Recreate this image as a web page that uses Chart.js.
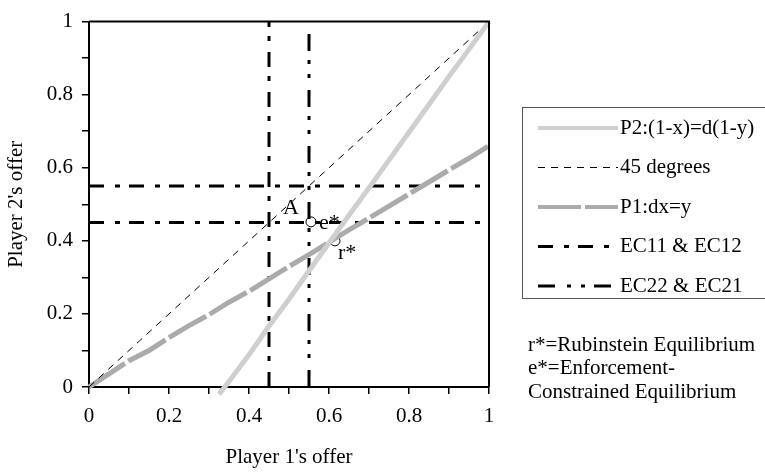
<!DOCTYPE html>
<html>
<head>
<meta charset="utf-8">
<script src="https://cdn.jsdelivr.net/npm/chart.js@4/dist/chart.umd.min.js"></script>
<style>
  body { margin: 0; background: #fff; }
</style>
</head>
<body>
<canvas id="game" width="765" height="473"></canvas>
<script>
Chart.defaults.font.family = '"Liberation Serif", "Times New Roman", serif';
Chart.defaults.font.size = 21;
Chart.defaults.color = '#000';

// data
const p1X = [0, 0.05, 0.1, 0.15, 0.2, 0.25, 0.3, 0.35, 0.4, 0.45, 0.5, 0.55, 0.6, 0.65, 0.7, 0.75, 0.8, 0.85, 0.9, 0.95, 1];
const p1Y = [0, 0.036, 0.072, 0.1, 0.135, 0.168, 0.198, 0.232, 0.262, 0.296, 0.33, 0.362, 0.396, 0.43, 0.462, 0.495, 0.528, 0.561, 0.594, 0.626, 0.66];
const p2X = [0.325, 0.35, 0.4, 0.45, 0.5, 0.55, 0.6, 0.65, 0.7, 0.75, 0.8, 0.85, 0.9, 0.95, 1];
const p2Y = [-0.02, 0.015, 0.088, 0.167, 0.24, 0.318, 0.394, 0.47, 0.545, 0.621, 0.697, 0.773, 0.85, 0.924, 1];
const diagX = [0, 1];
const diagY = [0, 1];
const ecLow = 0.45;
const ecHigh = 0.55;
const eqNames = ['e*', 'r*'];
const eqX = [0.555, 0.615];
const eqY = [0.452, 0.4];
const notes = ['r*=Rubinstein Equilibrium', 'e*=Enforcement-', 'Constrained Equilibrium'];

const pts = (xs, ys) => xs.map((x, i) => ({x: x, y: ys[i]}));

const dashDot = [15, 11, 5, 9];
const dashDotDot = [17, 12, 4, 10, 4, 9];

const datasets = [
    {label: 'P2:(1-x)=d(1-y)', data: pts(p2X, p2Y), borderColor: '#cfcfcf', borderWidth: 5,
     clip: {left: 0, top: 5, right: 5, bottom: 10}},
    {label: '45 degrees', data: pts(diagX, diagY), borderColor: '#000', borderWidth: 1, borderDash: [7, 6]},
    {label: 'P1:dx=y', data: pts(p1X, p1Y), borderColor: '#ababab', borderWidth: 5, borderDash: [43, 4],
     clip: 5},
    {label: 'EC11 & EC12', data: pts([ecLow, ecLow], [0, 1]), borderColor: '#000', borderWidth: 3, borderDash: dashDot},
    {label: 'EC22 & EC21', data: pts([ecHigh, ecHigh], [0, 1]), borderColor: '#000', borderWidth: 3, borderDash: dashDotDot},
    {label: 'h1', data: pts([0, 1], [ecHigh, ecHigh]), borderColor: '#000', borderWidth: 3, borderDash: dashDot, inLegend: false},
    {label: 'h2', data: pts([0, 1], [ecLow, ecLow]), borderColor: '#000', borderWidth: 3, borderDash: dashDot, inLegend: false},
    {label: 'eq', data: pts(eqX, eqY), showLine: false, pointRadius: 5, pointBackgroundColor: '#fff',
     pointBorderColor: '#000', pointBorderWidth: 1, inLegend: false}
];
datasets.forEach(d => {
    d.fill = false;
    d.tension = 0;
    if (d.pointRadius === undefined) d.pointRadius = 0;
});

const tickLabel = (v, i) => (i % 2 ? '' : String(Math.round(v * 10) / 10));

// frame, legend box, labels
const extras = {
    id: 'extras',
    afterDatasetsDraw(chart) {
        const {ctx, chartArea: a, scales} = chart;
        ctx.save();
        ctx.strokeStyle = '#000';
        ctx.lineWidth = 2;
        ctx.beginPath();
        ctx.moveTo(a.left, a.top);
        ctx.lineTo(a.right, a.top);
        ctx.lineTo(a.right, a.bottom);
        ctx.stroke();

        ctx.fillStyle = '#000';
        ctx.font = '22px "Liberation Serif", serif';
        ctx.textBaseline = 'middle';
        ctx.textAlign = 'center';
        ctx.fillText('A', scales.x.getPixelForValue(0.505), scales.y.getPixelForValue(0.49));
        ctx.textAlign = 'left';
        ctx.fillText(eqNames[0], scales.x.getPixelForValue(eqX[0]) + 8, scales.y.getPixelForValue(eqY[0]) + 1);
        ctx.fillText(eqNames[1], scales.x.getPixelForValue(eqX[1]) + 3, scales.y.getPixelForValue(eqY[1]) + 12);

        // legend
        ctx.lineWidth = 1;
        ctx.strokeStyle = '#555';
        ctx.strokeRect(522.5, 107.5, 300, 191);
        ctx.font = '21px "Liberation Serif", serif';
        let y = 128;
        chart.data.datasets.filter(d => d.inLegend !== false).forEach(d => {
            ctx.strokeStyle = d.borderColor;
            ctx.lineWidth = d.borderWidth === 5 ? 4 : d.borderWidth;
            ctx.setLineDash(d.borderDash || []);
            ctx.beginPath();
            ctx.moveTo(538, y);
            ctx.lineTo(618, y);
            ctx.stroke();
            ctx.setLineDash([]);
            ctx.fillText(d.label, 620, y);
            y += 39.5;
        });

        notes.forEach((t, i) => ctx.fillText(t, 528, 345 + i * 23.5));
        ctx.restore();
    }
};

const config = {
    type: 'line',
    data: {datasets: datasets},
    options: {
        responsive: false,
        animation: false,
        layout: {padding: {left: 0, right: 276, top: 14, bottom: 0}},
        plugins: {legend: {display: false}, tooltip: {enabled: false}},
        scales: {
            x: {
                type: 'linear', min: 0, max: 1,
                afterFit: s => { s.height = 86; },
                ticks: {stepSize: 0.1, padding: 10, maxRotation: 0, autoSkip: false, callback: tickLabel},
                grid: {drawOnChartArea: false, color: '#000', lineWidth: 1.5, tickLength: 7},
                border: {color: '#000', width: 2},
                title: {display: true, text: "Player 1's offer", padding: {top: 4, bottom: 3}}
            },
            y: {
                type: 'linear', min: 0, max: 1,
                afterFit: s => { s.width = 89; },
                ticks: {stepSize: 0.1, padding: 9, autoSkip: false, callback: tickLabel},
                grid: {drawOnChartArea: false, color: '#000', lineWidth: 1.5, tickLength: 7},
                border: {color: '#000', width: 2},
                title: {display: true, text: "Player 2's offer", padding: {top: 4, bottom: 4}}
            }
        }
    },
    plugins: [extras]
};

const chart = new Chart(document.getElementById('game'), config);
</script>
</body>
</html>
